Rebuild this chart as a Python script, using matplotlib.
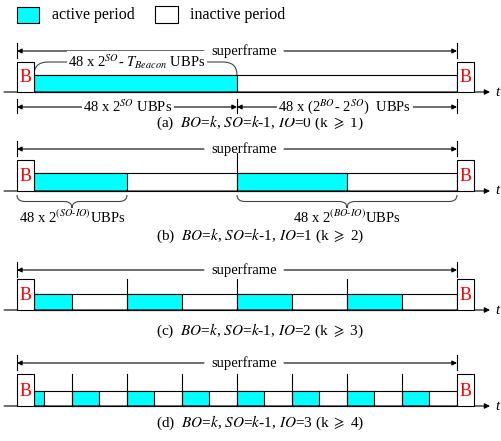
import matplotlib
matplotlib.use('Agg')
import matplotlib.pyplot as plt
from matplotlib.patches import Rectangle, FancyArrowPatch, PathPatch
from matplotlib.path import Path

plt.rcParams['font.family'] = ['Liberation Serif', 'DejaVu Serif']
plt.rcParams['mathtext.fontset'] = 'stix'

# Scenario data
io_values = [0, 1, 2, 3]          # inactive order per panel
so_offset = -1                    # SO = BO - 1  -> active part is 2**(SO-BO) of each slot
panel_tags = ['a', 'b', 'c', 'd']
k_min = [1, 2, 3, 4]
legend_labels = ['active period', 'inactive period']
sf_label = 'superframe'
a_top_label = '48 x 2$^{SO}$- $T_{Beacon}$ UBPs'
a_left_label = '48 x 2$^{SO}$ UBPs'
a_right_label = '48 x (2$^{BO}$- 2$^{SO}$)  UBPs'
b_left_label = '48 x 2$^{(SO\\text{-}IO)}$UBPs'
b_right_label = '48 x 2$^{(BO\\text{-}IO)}$UBPs'

CYAN = '#00ffff'
LW = 0.8

# layout (pixel units, y down)
X0, XE, BW = 17, 457, 17
SF_GAP = (204, 284)
rows = [  # superframe arrow y, box top, active top, baseline, caption y
    (51, 62, 75, 92, 123),
    (149, 160, 173, 191, 236),
    (270, 279, 294, 310, 331),
    (363, 374, 391, 406, 423),
]
div_extra = [0, 7, 0, 0]

fig = plt.figure(figsize=(5.02, 4.41), dpi=100)
ax = fig.add_axes([0, 0, 1, 1])
ax.set_xlim(0, 502)
ax.set_ylim(441, 0)
ax.axis('off')


def arrow(x0, x1, y, style='<|-|>', ms=7):
    ax.add_patch(FancyArrowPatch((x0, y), (x1, y), arrowstyle=style, mutation_scale=ms,
                                 lw=LW, color='k', shrinkA=0, shrinkB=0, zorder=2))


def vline(x, y0, y1):
    ax.plot([x, x], [y0, y1], color='k', lw=LW, zorder=2)


def label(x, y, s, size=10):
    ax.text(x, y, s, ha='center', va='center', fontsize=size, zorder=4,
            bbox=dict(fc='white', ec='none', pad=1.2))


def brace(x0, x1, y, d, r=8):
    xm = (x0 + x1) / 2
    h = y + d / 2
    verts = [(x0, y), (x0, h), (x0 + r, h), (xm - r, h), (xm, h), (xm, y + d),
             (xm, h), (xm + r, h), (x1 - r, h), (x1, h), (x1, y)]
    codes = [Path.MOVETO, Path.CURVE3, Path.CURVE3, Path.LINETO, Path.CURVE3, Path.CURVE3,
             Path.CURVE3, Path.CURVE3, Path.LINETO, Path.CURVE3, Path.CURVE3]
    ax.add_patch(PathPatch(Path(verts, codes), fc='none', ec='#444444', lw=LW))


# legend
ax.add_patch(Rectangle((17, 7), 22, 16, fc=CYAN, ec='k', lw=LW))
ax.text(52, 15, legend_labels[0], fontsize=11.5, va='center')
ax.add_patch(Rectangle((155, 6), 23, 17, fc='white', ec='k', lw=LW))
ax.text(190, 15, legend_labels[1], fontsize=11.5, va='center')

active_ratio = 2.0 ** so_offset
for i, io in enumerate(io_values):
    sf, top, act, base, cap = rows[i]
    n = 2 ** io
    L = (XE - X0) / n

    # superframe arrow, split around its label
    arrow(X0, SF_GAP[0], sf, style='<|-')
    arrow(SF_GAP[1], XE, sf, style='-|>')
    vline(X0, sf - 8, sf + 7)
    vline(XE, sf - 8, sf + 7)
    ax.text(sum(SF_GAP) / 2, sf, sf_label, fontsize=10.5, ha='center', va='center')

    # time axis
    arrow(4, 490, base, style='-|>', ms=8)
    ax.text(497, base, 't', fontsize=11, style='italic', ha='center', va='center')

    # inactive strip and active blocks
    ax.add_patch(Rectangle((X0 + BW, act), XE - X0 - BW, base - act, fc='white', ec='k', lw=LW))
    for j in range(n):
        xs = X0 + j * L
        if j > 0:
            vline(xs, top - div_extra[i], base)
        a0 = xs + (BW if j == 0 else 0)
        a1 = xs + L * active_ratio
        ax.add_patch(Rectangle((a0, act), a1 - a0, base - act, fc=CYAN, ec='k', lw=LW))

    # beacons
    for bx in (X0, XE):
        ax.add_patch(Rectangle((bx, top), BW, base - top, fc='white', ec='k', lw=LW, zorder=3))
        ax.text(bx + BW / 2, (top + base) / 2 + 1, 'B', color='red', fontsize=13,
                ha='center', va='center', zorder=4)

    ax.text(260, cap, '(%s)  $BO$=$k$, $SO$=$k$-1, $IO$=%d (k $\\geqslant$ %d)'
            % (panel_tags[i], io, k_min[i]), fontsize=11, ha='center', va='center')

# panel (a) annotations
sf, top, act, base, cap = rows[0]
xm = X0 + (XE - X0) * active_ratio
verts = [(X0 + BW, act), (X0 + BW, top), (X0 + BW + 14, top), (xm - 14, top), (xm, top), (xm, act)]
codes = [Path.MOVETO, Path.CURVE3, Path.CURVE3, Path.LINETO, Path.CURVE3, Path.CURVE3]
ax.add_patch(PathPatch(Path(verts, codes), fc='none', ec='#444444', lw=LW))
label(137, top, a_top_label, 10.5)
ya = 107
arrow(X0, xm, ya)
arrow(xm, XE, ya)
for x in (X0, xm, XE):
    vline(x, ya - 8, ya + 6)
label(128, ya, a_left_label, 10.5)
label(345, ya, a_right_label, 10.5)

# panel (b) braces
sf, top, act, base, cap = rows[1]
L = (XE - X0) / 2
brace(X0, X0 + L * active_ratio, base + 4, 13)
brace(X0 + L, XE, base + 4, 13)
ax.text(X0 + L * active_ratio / 2, base + 26, b_left_label, fontsize=10.5, ha='center', va='center')
ax.text(X0 + L * 1.5, base + 26, b_right_label, fontsize=10.5, ha='center', va='center')

fig.savefig('out.png', dpi=100)
